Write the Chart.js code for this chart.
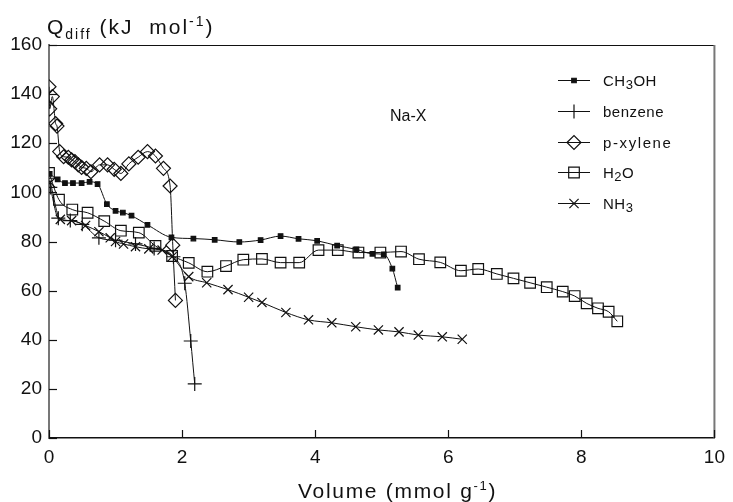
<!DOCTYPE html>
<html><head><meta charset="utf-8">
<script src="https://cdn.jsdelivr.net/npm/chart.js@4/dist/chart.umd.min.js"></script>
<style>html,body{margin:0;padding:0;background:#fff}#wrap{width:733px;height:502px}</style>
</head><body><div id="wrap"><canvas id="c" width="733" height="502"></canvas></div>
<script>
const xTicks = [0, 2, 4, 6, 8, 10];
const yTicks = [0, 20, 40, 60, 80, 100, 120, 140, 160];
const seriesNames = ["CH3OH", "benzene", "p-xylene", "H2O", "NH3"];

const ch3ohX = [0.01,0.13,0.24,0.36,0.49,0.61,0.73,0.87,1.0,1.11,1.24,1.48,1.84,2.17,2.49,2.86,3.18,3.48,3.75,4.03,4.33,4.62,4.86,5.03,5.16,5.24];
const ch3ohY = [107.5,105.3,103.8,103.8,103.8,104.3,103.4,95.2,92.5,91.8,90.5,86.8,81.7,81.2,80.7,79.8,80.6,82.2,81.1,80.3,78.3,76.8,75.0,74.8,69.0,61.2];

const benzeneX = [0.02,0.14,0.32,0.5,0.75,1.0,1.3,1.58,1.87,2.04,2.13,2.19];
const benzeneY = [102,89.5,88.5,87,81.5,80.5,79,77.2,73.8,63.0,39.5,22.0];

const xyleneX = [0.0,0.01,0.05,0.1,0.12,0.16,0.22,0.29,0.34,0.39,0.44,0.49,0.56,0.63,0.76,0.88,0.98,1.08,1.2,1.34,1.48,1.6,1.72,1.82,1.86,1.9];
const xyleneY = [143,134,139,128,127,116.6,114.5,114.3,113.2,112.5,111.2,110.2,109.8,108.4,111.2,111.2,109.4,107.7,111.6,114.3,116.6,114.8,109.8,102.6,78.5,56.0];

const h2oX = [0.0,0.15,0.35,0.58,0.83,1.08,1.35,1.6,1.85,2.1,2.38,2.66,2.92,3.2,3.48,3.76,4.05,4.34,4.65,4.98,5.29,5.56,5.88,6.19,6.45,6.73,6.98,7.23,7.48,7.72,7.9,8.08,8.25,8.41,8.54];
const h2oY = [107.9,97.0,93.0,91.7,88.3,84.4,83.6,78.2,74.1,71.3,67.7,70.0,72.6,72.9,71.4,71.4,76.5,76.5,75.5,75.5,75.9,72.8,71.5,68.1,68.8,66.8,65.0,63.2,61.4,59.6,57.8,54.8,52.8,51.4,47.5];

const nh3X = [0.02,0.17,0.34,0.55,0.75,0.92,1.0,1.12,1.3,1.5,1.7,1.85,2.1,2.37,2.69,3.0,3.2,3.56,3.9,4.25,4.61,4.95,5.26,5.55,5.91,6.21];
const nh3Y = [104,89,88.5,86.5,84,81.5,80,79,77.9,77,76.5,73.8,65.7,63.2,60.4,57.3,55.2,51.1,48.1,46.9,45.3,44.0,43.2,41.9,41.2,40.2];

function pts(xs, ys){ return xs.map((x,i)=>({x:x, y:ys[i]})); }

const markerStyles = [
  {pointStyle:'rect', radius:3.2, fill:'#111'},
  {pointStyle:'cross', radius:7, fill:'rgba(0,0,0,0)'},
  {pointStyle:'rectRot', radius:7, fill:'rgba(0,0,0,0)'},
  {pointStyle:'rect', radius:7.5, fill:'rgba(0,0,0,0)'},
  {pointStyle:'crossRot', radius:6.5, fill:'rgba(0,0,0,0)'}
];
const allData = [pts(ch3ohX,ch3ohY), pts(benzeneX,benzeneY), pts(xyleneX,xyleneY), pts(h2oX,h2oY), pts(nh3X,nh3Y)];

const datasets = allData.map((d,i)=>({
  label: seriesNames[i],
  data: d,
  showLine: true,
  borderColor: '#111',
  borderWidth: 1,
  cubicInterpolationMode: 'monotone',
  pointStyle: markerStyles[i].pointStyle,
  pointRadius: markerStyles[i].radius,
  pointBackgroundColor: markerStyles[i].fill,
  pointBorderColor: '#111',
  pointBorderWidth: 1.2,
  pointHoverRadius: markerStyles[i].radius
}));

const FONT = '"Liberation Sans", Arial, sans-serif';

function drawRun(ctx, parts, x, y, base, small, spacing){
  ctx.letterSpacing = spacing + 'px';
  parts.forEach(p=>{
    let dy = 0;
    if (p[1]==='n') ctx.font = base + 'px ' + FONT;
    else { ctx.font = small + 'px ' + FONT; dy = p[1]==='sub' ? Math.round(base*0.22) : -Math.round(base*0.4); }
    ctx.fillText(p[0], x, y+dy);
    x += ctx.measureText(p[0]).width;
  });
  ctx.letterSpacing = '0px';
}

const decor = {
  id: 'decor',
  afterDraw(chart){
    const ctx = chart.ctx, a = chart.chartArea;
    const xs = chart.scales.x, ys = chart.scales.y;
    ctx.save();
    ctx.strokeStyle = '#111'; ctx.lineWidth = 1.2;
    ctx.beginPath(); ctx.moveTo(a.left, a.top+0.5); ctx.lineTo(a.right, a.top+0.5); ctx.stroke();
    ctx.strokeStyle = '#777'; ctx.lineWidth = 2;
    ctx.beginPath(); ctx.moveTo(a.right, a.top); ctx.lineTo(a.right, a.bottom); ctx.stroke();
    ctx.strokeStyle = '#111'; ctx.lineWidth = 1.2;
    xTicks.forEach(v=>{ const px = Math.round(xs.getPixelForValue(v))+0.5;
      ctx.beginPath(); ctx.moveTo(px, a.bottom); ctx.lineTo(px, a.bottom-8); ctx.stroke(); });
    yTicks.forEach(v=>{ const py = Math.round(ys.getPixelForValue(v))+0.5;
      ctx.beginPath(); ctx.moveTo(a.left, py); ctx.lineTo(a.left+8, py); ctx.stroke(); });
    ctx.fillStyle = '#111'; ctx.textBaseline = 'alphabetic'; ctx.textAlign = 'left';
    drawRun(ctx, [['Q','n'],['diff','sub'],[' (kJ  mol','n'],['-1','sup'],[')','n']], 47, 34, 21, 14, 2);
    drawRun(ctx, [['Volume (mmol g','n'],['-1','sup'],[')','n']], 298, 498, 21, 13, 1.7);
    ctx.font = '16px ' + FONT; ctx.fillText('Na-X', 390, 121);
    const rowY = [80, 111, 142, 172, 203];
    const lx0 = 558, lx1 = 590, lmx = 574, tx = 603;
    const labels = [
      [['CH','n'],['3','sub'],['OH','n']],
      [['benzene','n']],
      [['p-xylene','n']],
      [['H','n'],['2','sub'],['O','n']],
      [['NH','n'],['3','sub']]
    ];
    rowY.forEach((ry,i)=>{
      ctx.strokeStyle = '#111'; ctx.lineWidth = 1;
      ctx.beginPath(); ctx.moveTo(lx0, ry+0.5); ctx.lineTo(lx1, ry+0.5); ctx.stroke();
      const ms = markerStyles[i];
      ctx.fillStyle = ms.fill; ctx.lineWidth = 1.2;
      Chart.helpers.drawPoint(ctx, {pointStyle: ms.pointStyle, radius: ms.radius, borderWidth:1.2, rotation:0}, lmx, ry+0.5);
      ctx.fillStyle = '#111';
      drawRun(ctx, labels[i], tx, ry+5.5, 15, 13, i===2 ? 1.6 : 0.5);
    });
    ctx.restore();
  }
};

new Chart(document.getElementById('c'), {
  type: 'scatter',
  data: { datasets },
  options: {
    responsive: false,
    animation: false,
    layout: { padding: { top: 45, right: 11, left: 0, bottom: 0 } },
    plugins: { legend: { display: false }, tooltip: { enabled: false } },
    scales: {
      x: {
        type: 'linear', min: 0, max: 10,
        afterFit(s){ s.height = 64; },
        afterBuildTicks(s){ s.ticks = xTicks.map(v=>({value:v})); },
        grid: { display: false, drawTicks: false },
        border: { display: true, color: '#111', width: 1.5 },
        ticks: { color: '#111', padding: 8, font: { family: FONT, size: 19 }, maxRotation: 0 }
      },
      y: {
        type: 'linear', min: 0, max: 160,
        afterFit(s){ s.width = 49; },
        afterBuildTicks(s){ s.ticks = yTicks.map(v=>({value:v})); },
        grid: { display: false, drawTicks: false },
        border: { display: true, color: '#777', width: 2 },
        ticks: { color: '#111', padding: 7, font: { family: FONT, size: 19 } }
      }
    }
  },
  plugins: [decor]
});
</script>
</body></html>
